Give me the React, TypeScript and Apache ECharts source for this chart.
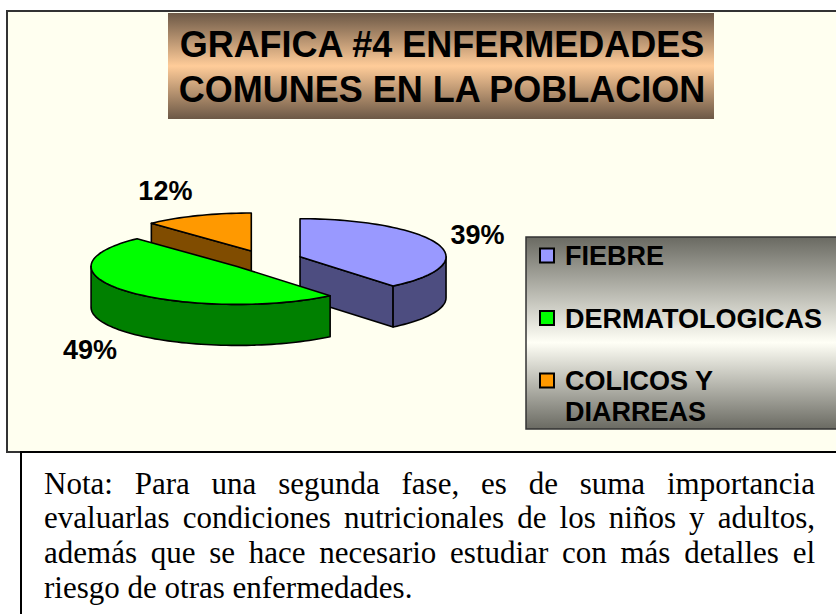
import { useEffect, useRef } from 'react';
import * as echarts from 'echarts';

const categories = ['FIEBRE', 'DERMATOLOGICAS', 'COLICOS Y DIARREAS'];
const values = [39, 49, 12];
const topColors = ['#9999FF', '#00FF00', '#FF9900'];
const sideColors = ['#4D4D80', '#008000', '#804C00'];
const titleLines = ['GRAFICA #4 ENFERMEDADES', 'COMUNES EN LA POBLACION'];
const noteLines = [
  'Nota: Para una segunda fase, es de suma importancia',
  'evaluarlas condiciones nutricionales de los niños y adultos,',
  'además que se hace necesario estudiar con más detalles el',
  'riesgo de otras enfermedades.',
];

const SANS = '"Liberation Sans", Arial, sans-serif';
const SERIF = '"Liberation Serif", "Times New Roman", serif';
const PIE = { cx: 265, cy: 260, a: 146, b: 38, depth: 41, explode: 0.255 };

const total = values.reduce((s, v) => s + v, 0);
const starts: number[] = [];
{
  let acc = 0;
  values.forEach((v) => {
    starts.push((acc / total) * 360);
    acc += v;
  });
}
const rad = (d: number) => (d * Math.PI) / 180;
const centers = values.map((v, i) => {
  const mid = rad(starts[i] + (v / total) * 180);
  return [
    PIE.cx + PIE.explode * PIE.a * Math.sin(mid),
    PIE.cy - PIE.explode * PIE.b * Math.cos(mid),
  ];
});
const ranks = centers
  .map((c, i) => ({ y: c[1], i }))
  .sort((p, q) => p.y - q.y)
  .reduce((m: number[], o, r) => {
    m[o.i] = r;
    return m;
  }, []);

function renderItem(params: any, api: any) {
  const i = params.dataIndex;
  const v = api.value(0);
  const s = starts[i];
  const e = s + (v / total) * 360;
  const midDeg = (s + e) / 2;
  const [cx, cy] = centers[i];
  const pt = (deg: number, dy = 0) => [
    cx + PIE.a * Math.sin(rad(deg)),
    cy - PIE.b * Math.cos(rad(deg)) + dy,
  ];
  const arc = (d0: number, d1: number, dy = 0) => {
    const n = Math.max(2, Math.ceil(Math.abs(d1 - d0) / 2));
    const out: number[][] = [];
    for (let k = 0; k <= n; k++) out.push(pt(d0 + ((d1 - d0) * k) / n, dy));
    return out;
  };
  const base = ranks[i] * 10;
  const stroke = { stroke: '#000', lineWidth: 1.6, lineJoin: 'round' };
  const children: any[] = [];
  const radial = (deg: number) => {
    const p = pt(deg);
    return {
      type: 'polygon',
      z2: base + 1,
      shape: { points: [[cx, cy], p, [p[0], p[1] + PIE.depth], [cx, cy + PIE.depth]] },
      style: { fill: sideColors[i], ...stroke },
    };
  };
  if (Math.sin(rad(s)) < -1e-6) children.push(radial(s));
  if (Math.sin(rad(e)) > 1e-6) children.push(radial(e));
  const w0 = Math.max(s, 90);
  const w1 = Math.min(e, 270);
  if (w1 > w0) {
    const top = arc(w0, w1);
    const bottom = arc(w1, w0, PIE.depth);
    children.push({
      type: 'polygon',
      z2: base + 2,
      shape: { points: top.concat(bottom) },
      style: { fill: sideColors[i], ...stroke },
    });
  }
  children.push({
    type: 'polygon',
    z2: base + 3,
    shape: { points: [[cx, cy]].concat(arc(s, e)) },
    style: { fill: topColors[i], ...stroke },
  });
  // label
  const sm = Math.sin(rad(midDeg));
  const cm = Math.cos(rad(midDeg));
  const edge = pt(midDeg, cm < 0 ? PIE.depth : 0);
  const g = 14;
  const halfW = 27;
  const halfH = 12;
  children.push({
    type: 'text',
    z2: 100,
    style: {
      text: `${v}%`,
      x: edge[0] + g * sm + halfW * Math.sign(sm),
      y: edge[1] - g * cm - halfH * cm,
      align: 'center',
      verticalAlign: 'middle',
      font: `bold 27px ${SANS}`,
      fill: '#000',
    },
  });
  return { type: 'group', children };
}

function measure(text: string, font: string) {
  const c = document.createElement('canvas').getContext('2d')!;
  c.font = font;
  return c.measureText(text).width;
}

export default function App() {
  const ref = useRef<HTMLDivElement>(null);
  useEffect(() => {
    const chart = echarts.init(ref.current!, null, { renderer: 'svg' });

    const graphics: any[] = [];
    // chart area
    graphics.push({
      type: 'rect',
      z: 0,
      shape: { x: 7, y: 11, width: 860, height: 441 },
      style: { fill: '#FFFFF0', stroke: '#333', lineWidth: 2 },
    });
    // title box
    graphics.push({
      type: 'rect',
      z: 1,
      shape: { x: 168, y: 13, width: 546, height: 106 },
      style: {
        fill: new echarts.graphic.LinearGradient(0, 0, 0, 1, [
          { offset: 0, color: '#6c5846' },
          { offset: 0.5, color: '#FFCC99' },
          { offset: 1, color: '#6c5846' },
        ]),
      },
    });
    titleLines.forEach((t, k) => {
      graphics.push({
        type: 'text',
        z: 2,
        style: {
          text: t,
          x: 442,
          y: 44 + k * 45.5,
          align: 'center',
          verticalAlign: 'middle',
          font: `bold 36px ${SANS}`,
          fill: '#000',
        },
      });
    });
    // legend box
    graphics.push({
      type: 'rect',
      z: 1,
      shape: { x: 526, y: 237, width: 340, height: 192 },
      style: {
        stroke: '#333',
        lineWidth: 1.5,
        fill: new echarts.graphic.LinearGradient(0, 0, 0, 1, [
          { offset: 0, color: '#6a6a62' },
          { offset: 0.55, color: '#fffff6' },
          { offset: 1, color: '#6a6a62' },
        ]),
      },
    });
    const legendCenters = [256, 318.5, 381];
    categories.forEach((name, i) => {
      const yc = legendCenters[i];
      graphics.push({
        type: 'rect',
        z: 2,
        shape: { x: 540, y: yc - 7.5, width: 14, height: 14 },
        style: { fill: topColors[i], stroke: '#000', lineWidth: 2 },
      });
      graphics.push({
        type: 'text',
        z: 2,
        style: {
          text: name,
          x: 565,
          y: yc - 15.5,
          width: 275,
          overflow: 'break',
          lineHeight: 31,
          align: 'left',
          verticalAlign: 'top',
          font: `bold 27px ${SANS}`,
          fill: '#000',
        },
      });
    });
    // note box
    graphics.push({
      type: 'rect',
      z: 1,
      shape: { x: 21, y: 452, width: 860, height: 200 },
      style: { fill: '#fff', stroke: '#000', lineWidth: 2 },
    });
    const noteFont = `31px ${SERIF}`;
    const left = 44;
    const right = 815;
    noteLines.forEach((line, k) => {
      const y = 483 + k * 34.7;
      const words = line.split(' ');
      const justify = k < noteLines.length - 1;
      const widths = words.map((w) => measure(w, noteFont));
      const sum = widths.reduce((p, q) => p + q, 0);
      const gap = justify ? (right - left - sum) / (words.length - 1) : measure(' ', noteFont);
      let x = left;
      words.forEach((w, j) => {
        graphics.push({
          type: 'text',
          z: 2,
          style: {
            text: w,
            x,
            y,
            align: 'left',
            verticalAlign: 'middle',
            font: noteFont,
            fill: '#000',
          },
        });
        x += widths[j] + gap;
      });
    });

    chart.setOption({
      animation: false,
      graphic: { elements: graphics },
      series: [
        {
          type: 'custom',
          coordinateSystem: 'none',
          z: 5,
          renderItem,
          data: values.map((v, i) => ({ name: categories[i], value: [v] })),
        },
      ],
    });
    return () => chart.dispose();
  }, []);
  return (
    <div
      ref={ref}
      style={{ position: 'fixed', left: 0, top: 0, width: 836, height: 614, background: '#fff' }}
    />
  );
}
